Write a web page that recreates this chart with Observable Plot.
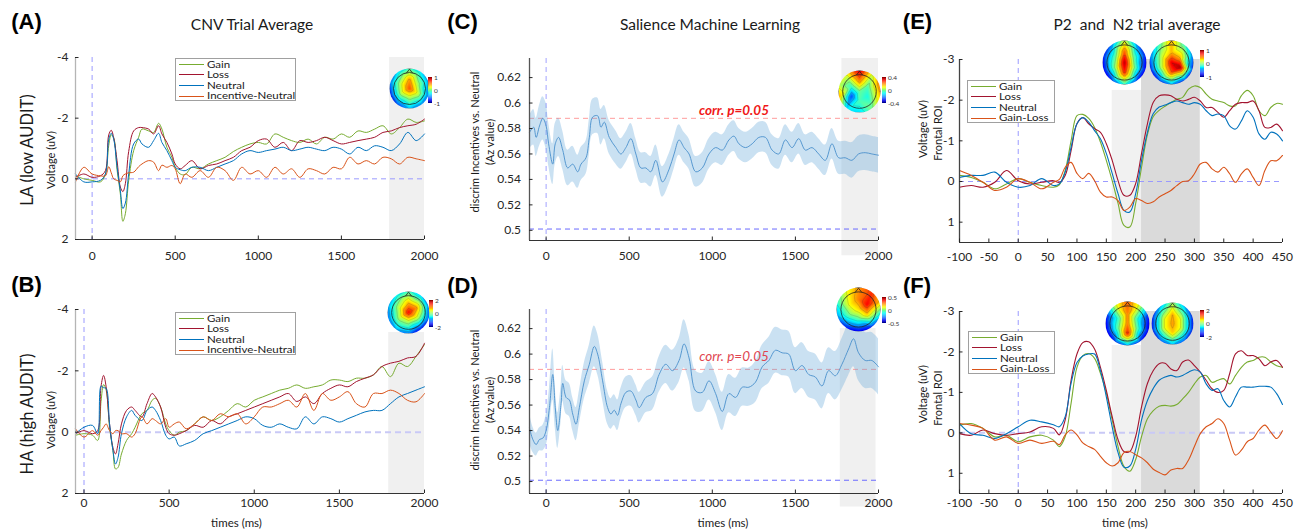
<!DOCTYPE html>
<html><head><meta charset="utf-8">
<script src="https://cdn.jsdelivr.net/npm/d3@7"></script>
<script src="https://cdn.jsdelivr.net/npm/@observablehq/plot@0.6"></script>
<style>
body{margin:0;background:#fff;font-family:Lato,sans-serif;}
#wrap{position:relative;width:1298px;height:530px;overflow:hidden;background:#fff;}
#wrap svg{position:absolute;}
</style></head><body><div id="wrap"></div>
<script>
// ---------------- DATA ----------------
const seriesAB = ["Gain","Loss","Neutral","Incentive-Neutral"];
const seriesEF = ["Gain","Loss","Neutral","Gain-Loss"];

// Panel A (LA, CNV)
const tA = [-100,-50,0,50,80,100,115,130,150,170,185,200,220,250,280,300,340,370,400,420,450,480,500,530,560,600,650,700,750,800,850,900,950,1000,1050,1100,1150,1200,1250,1300,1350,1400,1450,1500,1550,1600,1650,1700,1750,1800,1850,1900,1950,2000];
const gainA = [-0.1,0,0.05,0.1,-0.15,-1.1,-1.45,-1.35,-0.3,0.5,1.4,1.15,0.05,-0.93,-1.37,-1.64,-1.58,-1.53,-1.83,-1.64,-1.04,-0.71,-0.38,-0.16,-0.14,-0.38,-0.33,-0.49,-0.6,-0.71,-0.9,-1.04,-1.15,-1.2,-1.15,-1.48,-1.37,-1.26,-1.2,-1.31,-1.15,-1.37,-1.31,-1.48,-1.37,-1.58,-1.53,-1.64,-1.75,-1.48,-1.69,-1.97,-1.86,-1.91];
const lossA = [-0.05,-0.16,-0.05,-0.1,-0.27,-1.45,-1.6,-1.35,-0.6,0.27,0.42,0.16,-0.9,-1.58,-1.69,-1.69,-1.64,-1.48,-1.75,-1.48,-1.2,-0.82,-0.49,-0.33,-0.44,-0.6,-0.33,-0.44,-0.49,-0.6,-0.71,-0.93,-1.04,-1.26,-1.31,-1.04,-1.2,-0.93,-1.26,-1.2,-1.26,-1.37,-1.26,-1.15,-1.2,-1.26,-1.31,-1.37,-1.53,-1.58,-1.69,-1.75,-1.8,-1.97];
const neutralA = [-0.16,0.1,0.1,0.05,-0.16,-1.3,-1.5,-1.3,-0.4,0.4,0.98,0.8,-0.16,-1.15,-1.31,-1.15,-1.04,-1.26,-1.5,-1.2,-0.93,-0.6,-0.38,-0.3,-0.27,-0.38,-0.38,-0.27,-0.38,-0.49,-0.6,-0.82,-0.93,-0.87,-0.93,-0.98,-1.04,-0.93,-0.98,-1.04,-0.98,-0.93,-1.04,-0.98,-0.82,-1.04,-0.93,-1.09,-1.04,-0.93,-1.15,-1.53,-1.26,-1.48];
const diffA = [0.1,-0.38,-0.16,-0.1,-0.1,-0.4,-0.2,0.0,0.05,0.1,-0.1,-0.16,-0.2,-0.22,-0.4,-0.49,-0.6,-0.55,-0.27,-0.45,-0.38,-0.44,-0.33,0.16,-0.16,-0.05,-0.27,-0.05,-0.38,-0.27,0.05,-0.38,-0.16,-0.27,-0.05,-0.38,-0.16,-0.33,-0.05,-0.33,-0.27,-0.16,-0.38,-0.33,-0.71,-0.49,-0.6,-0.49,-0.71,-0.66,-0.49,-0.71,-0.66,-0.6];

// Panel B (HA, CNV)
const tB = [-50,0,50,80,100,115,130,150,170,185,200,220,250,280,300,340,370,400,420,450,480,500,530,560,600,650,700,750,800,850,900,950,1000,1050,1100,1150,1200,1250,1300,1350,1400,1450,1500,1550,1600,1650,1700,1750,1800,1850,1900,1950,2000];
const gainB = [0.1,0.05,0.1,0.27,-1.0,-1.55,-1.37,-0.16,0.6,1.2,1.15,0.71,0.27,0.05,-0.16,-0.6,-0.71,-1.04,-1.1,-0.82,-0.27,-0.05,0.1,0,-0.05,-0.27,-0.5,-0.38,-0.5,-0.71,-0.93,-0.82,-1.04,-1.15,-1.26,-1.37,-1.43,-1.54,-1.43,-1.48,-1.54,-1.7,-1.7,-1.65,-1.76,-1.76,-1.87,-2.14,-1.81,-2.25,-2.14,-2.47,-2.86];
const lossB = [0.05,-0.05,0.05,-0.05,-1.5,-1.85,-1.48,-0.27,0.5,0.71,0.38,-0.27,-0.71,-0.82,-0.71,-0.5,-0.93,-1.26,-1.15,-0.82,-0.16,0.05,0.1,0.05,-0.05,-0.22,-0.16,-0.38,-0.27,-0.5,-0.6,-0.71,-0.82,-0.93,-1.04,-1.15,-1.26,-1.0,-1.15,-0.93,-1.26,-1.43,-1.54,-1.48,-1.65,-1.76,-1.87,-2.14,-2.25,-2.31,-2.42,-2.47,-2.9];
const neutralB = [0.05,-0.16,-0.22,0.05,-1.5,-1.45,-1.43,-0.27,0.6,1.04,0.82,0.05,-0.5,-0.71,-0.55,-0.38,-0.71,-0.82,-0.71,-0.38,0.1,0.22,0.16,0.45,0.38,0.27,0.05,-0.05,-0.16,-0.27,-0.38,-0.5,-0.44,-0.22,-0.16,-0.27,-0.16,-0.11,-0.5,-0.27,-0.5,-0.44,-0.33,-0.44,-0.55,-0.66,-0.71,-0.71,-0.93,-1.15,-1.26,-1.37,-1.48];
const diffB = [-0.11,0.16,-0.05,0.1,-0.05,-0.16,-0.27,-0.05,0.05,-0.05,-0.05,0.05,0.05,0.16,0.05,-0.5,-0.27,-0.44,-0.38,-0.27,-0.44,-0.16,-0.27,-0.33,-0.11,-0.27,-0.5,-0.38,-0.6,-0.5,-0.6,-0.27,-0.5,-0.82,-0.82,-0.93,-1.04,-0.82,-1.26,-0.71,-1.26,-1.04,-1.15,-1.32,-0.93,-0.82,-1.26,-1.26,-1.37,-1.26,-1.04,-0.99,-1.26];

// Panel C (LA, classifier Az) mean and half-width of band
const tC = [-100,-75,-60,-40,-20,0,15,40,55,75,100,130,160,190,210,240,260,280,310,330,350,380,420,450,480,510,540,570,600,630,660,700,740,770,800,830,860,900,940,980,1020,1060,1100,1130,1160,1200,1240,1280,1320,1360,1400,1440,1480,1520,1560,1600,1640,1680,1720,1760,1800,1840,1880,1920,1960,2000];
const azC = [0.577,0.581,0.573,0.582,0.588,0.582,0.568,0.552,0.568,0.573,0.563,0.549,0.552,0.546,0.552,0.557,0.573,0.589,0.590,0.581,0.585,0.573,0.565,0.560,0.565,0.572,0.560,0.549,0.549,0.546,0.555,0.538,0.548,0.560,0.571,0.565,0.560,0.546,0.549,0.560,0.565,0.563,0.571,0.574,0.568,0.565,0.568,0.573,0.573,0.563,0.560,0.571,0.565,0.572,0.563,0.565,0.560,0.555,0.568,0.557,0.557,0.555,0.560,0.561,0.560,0.559];
const ciC = [0.013,0.014,0.015,0.016,0.017,0.018,0.017,0.016,0.016,0.015,0.015,0.014,0.014,0.013,0.013,0.013,0.014,0.014,0.014,0.014,0.013,0.013,0.013,0.012,0.012,0.012,0.012,0.012,0.012,0.012,0.012,0.012,0.012,0.012,0.012,0.012,0.012,0.012,0.012,0.012,0.012,0.012,0.012,0.012,0.012,0.012,0.012,0.012,0.012,0.012,0.012,0.012,0.012,0.012,0.012,0.012,0.012,0.012,0.012,0.013,0.013,0.014,0.014,0.014,0.014,0.014];

// Panel D (HA, classifier Az)
const tD = [-100,-80,-60,-40,-20,0,20,40,55,70,90,100,120,140,160,180,200,230,260,290,310,340,370,390,410,430,450,480,510,540,560,600,640,680,720,760,800,830,860,900,940,980,1020,1060,1100,1140,1180,1220,1260,1300,1340,1380,1420,1460,1500,1540,1580,1620,1660,1700,1740,1780,1820,1850,1880,1920,1960,2000];
const azD = [0.542,0.533,0.529,0.533,0.534,0.540,0.558,0.584,0.558,0.540,0.561,0.577,0.566,0.564,0.553,0.545,0.558,0.579,0.592,0.606,0.600,0.579,0.558,0.553,0.556,0.552,0.561,0.570,0.571,0.564,0.558,0.566,0.569,0.584,0.592,0.587,0.595,0.608,0.597,0.571,0.570,0.579,0.569,0.555,0.569,0.566,0.574,0.574,0.578,0.590,0.595,0.603,0.601,0.600,0.587,0.591,0.584,0.582,0.575,0.587,0.583,0.592,0.604,0.612,0.601,0.595,0.595,0.590];
const ciD = [0.012,0.010,0.009,0.009,0.010,0.012,0.015,0.020,0.016,0.014,0.014,0.014,0.013,0.013,0.013,0.013,0.013,0.014,0.015,0.016,0.016,0.015,0.013,0.012,0.012,0.012,0.012,0.012,0.012,0.012,0.012,0.012,0.013,0.014,0.015,0.016,0.017,0.019,0.018,0.016,0.015,0.015,0.015,0.015,0.015,0.015,0.015,0.015,0.016,0.017,0.018,0.018,0.018,0.018,0.018,0.018,0.018,0.018,0.018,0.018,0.019,0.020,0.021,0.022,0.022,0.022,0.022,0.022];

// Panels E and F (P2/N2 frontal ROI)
const tEF = [-100,-80,-60,-40,-20,0,20,40,60,70,80,90,100,110,120,130,140,150,160,170,180,190,200,210,220,230,240,250,260,270,280,290,300,310,320,330,340,350,360,370,380,390,400,410,420,430,440,450];
const gainE = [-0.15,-0.1,0.02,0.18,0.06,-0.07,0.02,0.1,0.14,0.08,-0.27,-1.0,-1.62,-1.65,-1.55,-1.33,-0.97,-0.52,-0.02,0.54,1.08,1.12,0.54,-0.35,-1.15,-1.6,-1.75,-1.85,-1.94,-2.02,-2.07,-2.27,-2.35,-2.31,-2.15,-2.02,-1.98,-1.94,-1.86,-1.86,-2.11,-2.24,-2.11,-1.74,-1.62,-1.82,-1.92,-1.9];
const lossE = [0.14,0.1,0.14,0.02,-0.27,-0.02,0.06,0.02,-0.02,0.02,-0.15,-0.76,-1.42,-1.57,-1.42,-1.3,-1.21,-0.93,-0.52,-0.02,0.34,0.34,0.05,-0.69,-1.42,-1.95,-2.11,-2.13,-2.11,-2.02,-1.98,-2.02,-2.07,-1.98,-1.82,-1.82,-1.7,-1.58,-1.74,-1.9,-1.94,-1.94,-1.98,-1.74,-1.33,-1.33,-1.41,-1.25];
const neutralE = [-0.1,-0.15,-0.15,-0.23,0.02,0.14,0.1,-0.07,0.1,0.06,-0.23,-0.84,-1.42,-1.57,-1.46,-1.25,-1.05,-0.69,-0.2,0.3,0.71,0.75,0.3,-0.52,-1.21,-1.67,-1.83,-1.88,-1.94,-1.98,-1.94,-1.9,-1.94,-1.9,-1.74,-1.62,-1.66,-1.62,-1.37,-1.29,-1.49,-1.74,-1.58,-1.17,-1.04,-1.21,-1.17,-1.0];
const diffE = [-0.27,-0.15,0.02,0.22,0.14,-0.07,0.02,0.18,0.02,-0.05,-0.35,-0.47,-0.2,-0.07,-0.2,-0.02,0.26,0.38,0.38,0.47,0.71,0.63,0.42,0.47,0.54,0.5,0.38,0.3,0.22,0.1,0,-0.02,-0.19,-0.43,-0.47,-0.31,-0.23,-0.35,-0.19,0.02,-0.19,-0.31,-0.1,0.1,-0.27,-0.51,-0.51,-0.64];
const gainF = [-0.19,-0.23,-0.11,0.1,0.06,0.22,0.1,0.06,0.18,0.34,0.09,-0.73,-1.62,-1.91,-1.96,-1.84,-1.47,-0.98,-0.32,0.34,0.83,0.95,0.66,0.09,-0.35,-0.55,-0.66,-0.68,-0.66,-0.7,-0.84,-1.0,-1.21,-1.38,-1.42,-1.25,-1.3,-1.34,-1.21,-1.42,-1.62,-1.75,-1.79,-1.87,-1.87,-1.75,-1.66,-1.62];
const lossF = [0.02,0.06,-0.07,0.02,0.06,0.02,-0.02,-0.15,-0.11,0.05,-0.32,-1.3,-1.95,-2.23,-2.25,-2.07,-1.62,-1.05,-0.4,0.17,0.46,0.46,0.09,-0.64,-1.22,-1.54,-1.71,-1.72,-1.58,-1.54,-1.75,-1.8,-1.66,-1.5,-1.3,-1.09,-1.0,-1.05,-1.46,-1.95,-2.03,-1.91,-1.91,-1.83,-1.66,-1.75,-1.79,-1.62];
const neutralF = [-0.23,0.02,0.06,0.14,0.02,-0.15,-0.31,-0.27,-0.2,-0.15,-0.4,-1.22,-1.74,-1.9,-1.95,-1.95,-1.54,-0.89,-0.15,0.49,0.85,0.82,0.41,-0.32,-0.8,-1.1,-1.3,-1.38,-1.42,-1.38,-1.42,-1.5,-1.56,-1.5,-1.21,-1.05,-1.09,-0.8,-0.64,-0.89,-1.13,-1.13,-1.13,-1.15,-1.15,-1.13,-0.97,-0.7];
const diffF = [-0.23,-0.19,-0.11,0.18,0.1,0.26,0.18,0.26,0.21,0.29,0.05,-0.07,0.05,0.25,0.34,0.41,0.58,0.74,0.82,0.74,0.49,0.46,0.54,0.62,0.74,0.9,0.98,1.04,0.92,0.88,0.88,0.67,0.34,0.02,-0.15,-0.23,-0.35,-0.23,0.18,0.55,0.43,0.22,0.14,-0.07,-0.19,-0.02,0.14,-0.05];

// reference levels and analysis windows
const corrP = 0.588, chanceAz = 0.501;
const winCNV = [1790, 2000], winC = [1780, 2000], winD = [1770, 1985];
const winP2 = [160, 210], winN2 = [210, 310];

// tick values
const ticksCNVx = [0,500,1000,1500,2000], ticksCNVy = [-4,-2,0,2];
const ticksAzY = [0.5,0.52,0.54,0.56,0.58,0.6,0.62];
const ticksEFx = [-100,-50,0,50,100,150,200,250,300,350,400,450], ticksEFy = [-3,-2,-1,0,1];

// scalp maps: electrode layout + values (normalised)
const elecX = [0,0,0.39,0.39,0,-0.39,-0.39,0,0.647,1.046,1.046,0.647,0,-0.647,-1.046,-1.046,-0.647];
const elecY = [0,0.45,0.225,-0.225,-0.45,-0.225,0.225,1.1,0.89,0.34,-0.34,-0.89,-1.1,-0.89,-0.34,0.34,0.89];
const topoA = [0.6,0.45,0.1,0.2,0.1,0.15,0.2,-0.2,-0.4,-0.5,-0.6,-0.55,-0.45,-0.7,-0.8,-0.6,-0.4];
const topoB = [0.75,0.4,0.45,0.2,0.1,0.15,0.2,-0.2,-0.45,-0.6,-0.7,-0.85,-0.6,-0.5,-0.6,-0.5,-0.35];
const topoC = [-0.05,0.45,-0.1,-0.2,-0.1,-0.6,-0.15,0.9,0.2,0.6,0.4,0.0,-0.35,-0.3,0.5,0.15,0.25];
const topoD = [0.3,0.5,0.75,0.35,-0.1,0.0,0.25,0.45,0.65,0.3,-0.4,-0.8,-0.9,-0.8,-0.5,-0.2,0.15];
const topoE1 = [0.9,0.6,0.0,0.1,0.7,0.1,0.0,0.1,-0.6,-0.8,-0.9,-0.8,-0.3,-0.8,-0.9,-0.8,-0.6];
const topoE2 = [0.8,0.4,0.4,0.9,0.6,0.2,0.2,0.4,-0.2,-0.6,-0.8,-0.8,-0.6,-0.8,-0.8,-0.6,-0.2];
const topoF1 = [0.5,0.5,-0.1,0.0,0.7,0.0,-0.1,0.6,0.1,-0.8,-0.9,-0.8,-0.6,-0.8,-0.9,-0.8,0.1];
const topoF2 = [0.45,0.4,0.2,0.2,0.35,0.2,0.2,0.0,-0.5,-0.8,-0.8,-0.7,-0.5,-0.7,-0.8,-0.8,-0.5];
const noseX = [-0.14,0,0.14], noseY = [0.79,0.97,0.79];

// ---------------- DRAWING ----------------
const wrap = document.getElementById("wrap");
const COL = {Gain:"#77ac30", Loss:"#a2142f", Neutral:"#0072bd", diff:"#d95319"};
const jet = {type:"linear", domain:[-1,-0.75,-0.25,0.25,0.75,1], range:["#00007f","#0000ff","#00ffff","#ffff00","#ff0000","#7f0000"]};
const fmt = d => String(+(+d).toFixed(2));
const rows = (t, v) => t.map((x, i) => ({t: x, v: v[i]}));
const line = (t, v, c, w = 1) => Plot.line(rows(t, v), {x: "t", y: "v", stroke: c, strokeWidth: w, curve: "catmull-rom"});

function panel({box:[L,T,W,H], frame:[fl,ft,fr,fb], x, y, xticks, yticks, xpad, ypad, leftColor, marks}) {
  const p = Plot.plot({
    width: W, height: H,
    marginLeft: fl - L, marginRight: L + W - fr, marginTop: ft - T, marginBottom: T + H - fb,
    x: {domain: x}, y: {domain: y},
    style: {fontFamily: "Lato, sans-serif", fontSize: "12px", color: "#262626", background: "transparent", overflow: "visible"},
    marks: [
      ...marks,
      Plot.ruleX([x[0]], {stroke: leftColor, strokeWidth: 1.3}),
      Plot.ruleY([y[0]], {stroke: "#333", strokeWidth: 1}),
      Plot.axisX(xticks, {tickSize: -3.5, tickPadding: xpad, tickFormat: fmt, label: null}),
      Plot.axisY(yticks, {tickSize: -3.5, tickPadding: ypad, tickFormat: fmt, label: null})
    ]
  });
  p.style.left = L + "px"; p.style.top = T + "px";
  wrap.append(p);
}

function txt(s, x, y, css = "", rot = false) {
  const d = document.createElement("div");
  d.textContent = s;
  d.style.cssText = `position:absolute;left:${x}px;top:${y}px;white-space:nowrap;line-height:1;color:#1a1a1a;transform:translate(-50%,-50%)${rot ? " rotate(-90deg)" : ""};` + css;
  wrap.append(d);
}

function legend(left, top, w, h, names, colors, first, step) {
  const d = document.createElement("div");
  d.style.cssText = `position:absolute;left:${left}px;top:${top}px;width:${w}px;height:${h}px;border:1px solid #a0a0a0;background:#fff;box-sizing:border-box;`;
  names.forEach((n, i) => {
    const cy = first + i * step;
    const ln = document.createElement("div");
    ln.style.cssText = `position:absolute;left:3px;top:${cy - 0.7}px;width:25px;height:0;border-top:1.3px solid ${colors[i]};`;
    const tx = document.createElement("div");
    tx.textContent = n;
    tx.style.cssText = `position:absolute;left:31px;top:${cy}px;line-height:1;font-size:11.5px;color:#1a1a1a;white-space:nowrap;transform-origin:0 0;transform:translateY(-50%) scaleY(0.76);transform:scaleY(0.76) translateY(-50%);`;
    d.append(ln, tx);
  });
  wrap.append(d);
}

let clipN = 0;
function topomap(cx, cy, R, vals) {
  const m = 2, size = 2 * R + 2 * m;
  const data = elecX.map((x, i) => ({x, y: elecY[i], v: vals[i]}));
  const p = Plot.plot({
    width: size, height: size, margin: m,
    x: {domain: [-1, 1], axis: null}, y: {domain: [-1, 1], axis: null},
    color: jet,
    style: {background: "transparent", overflow: "visible"},
    marks: [
      Plot.raster(data, {x: "x", y: "y", fill: "v", interpolate: "barycentric"}),
      Plot.contour(data, {x: "x", y: "y", value: "v", interpolate: "barycentric", thresholds: 7, stroke: "#333", strokeOpacity: 0.45, strokeWidth: 0.4, fill: "none"}),
      Plot.dot([0], {x: d => d, y: d => d, r: R * 0.8, stroke: "#222", strokeWidth: 0.8, fill: "none"}),
      Plot.line(noseX.map((x, i) => ({x, y: noseY[i]})), {x: "x", y: "y", stroke: "#222", strokeWidth: 0.8})
    ]
  });
  const ns = "http://www.w3.org/2000/svg", id = "clp" + (clipN++);
  const defs = document.createElementNS(ns, "defs");
  const cp = document.createElementNS(ns, "clipPath"); cp.setAttribute("id", id);
  const c = document.createElementNS(ns, "circle");
  c.setAttribute("cx", size / 2); c.setAttribute("cy", size / 2); c.setAttribute("r", R);
  cp.append(c); defs.append(cp); p.prepend(defs);
  p.querySelectorAll('[aria-label="raster"],[aria-label="contour"]').forEach(g => g.setAttribute("clip-path", `url(#${id})`));
  p.style.left = (cx - size / 2) + "px"; p.style.top = (cy - size / 2) + "px";
  wrap.append(p);
}

function colorbar(left, top, h, labels) {
  const n = 24;
  const p = Plot.plot({
    width: 30, height: h + 8, marginTop: 4, marginBottom: 4, marginLeft: 0, marginRight: 0,
    x: {domain: [0, 7.5], axis: null}, y: {domain: [0, n], axis: null},
    color: jet,
    style: {background: "transparent", overflow: "visible", fontFamily: "Lato, sans-serif"},
    marks: [
      Plot.rect(d3.range(n), {x1: 0, x2: 1, y1: d => d, y2: d => d + 1, fill: d => -1 + 2 * (d + 0.5) / n}),
      Plot.text(labels, {x: 1.35, y: (d, i) => [n, n / 2, 0][i], text: d => d, textAnchor: "start", fontSize: 6.5, fill: "#333"})
    ]
  });
  p.style.left = left + "px"; p.style.top = (top - 4) + "px";
  wrap.append(p);
}

const dashBlue = {stroke: "#9a9aff", strokeDasharray: "5,4", strokeWidth: 1};
const dashBlueThick = {stroke: "#c9c9f6", strokeDasharray: "6,4", strokeWidth: 2};

// Panel A
panel({box: [0, 0, 440, 262], frame: [75, 57, 424, 239], x: [-100, 2000], y: [2, -4],
  xticks: ticksCNVx, yticks: ticksCNVy, xpad: 15, ypad: 10.5, leftColor: "#b5b5b5",
  marks: [
    Plot.rect([winCNV], {x1: d => d[0], x2: d => d[1], y1: 2, y2: -4, fill: "#f0f0f0"}),
    Plot.ruleY([0], dashBlue), Plot.ruleX([0], dashBlue),
    line(tA, gainA, COL.Gain), line(tA, lossA, COL.Loss), line(tA, neutralA, COL.Neutral), line(tA, diffA, COL.diff)
  ]});
// Panel B
panel({box: [0, 262, 440, 250], frame: [75, 309, 424, 493], x: [-50, 2000], y: [2, -4],
  xticks: ticksCNVx, yticks: ticksCNVy, xpad: 8, ypad: 10.5, leftColor: "#b5b5b5",
  marks: [
    Plot.rect([winCNV], {x1: d => d[0], x2: d => d[1], y1: 2, y2: -3.25, fill: "#f0f0f0"}),
    Plot.ruleY([0], dashBlueThick), Plot.ruleX([0], dashBlue),
    line(tB, gainB, COL.Gain), line(tB, lossB, COL.Loss), line(tB, neutralB, COL.Neutral), line(tB, diffB, COL.diff)
  ]});

function azMarks(t, m, ci, win, ytop) {
  const d = t.map((x, i) => ({t: x, lo: m[i] - ci[i], hi: m[i] + ci[i], v: m[i]}));
  return [
    Plot.rect([win], {x1: w => w[0], x2: w => w[1], y1: 0.48, y2: ytop, fill: "#f0f0f0"}),
    Plot.ruleY([corrP], {stroke: "#ff9c9c", strokeDasharray: "5,4"}),
    Plot.ruleY([chanceAz], {stroke: "#6a6aff", strokeDasharray: "5,4"}),
    Plot.ruleX([0], {stroke: "#a3a3ff", strokeDasharray: "5,4"}),
    Plot.areaY(d, {x: "t", y1: "lo", y2: "hi", fill: "#5ea3d8", fillOpacity: 0.33, curve: "catmull-rom"}),
    Plot.line(d, {x: "t", y: "v", stroke: "#4a90cc", strokeWidth: 0.9, curve: "catmull-rom"})
  ];
}
// Panel C
panel({box: [440, 0, 450, 262], frame: [529, 58, 878, 240], x: [-100, 2000], y: [0.492, 0.635],
  xticks: ticksCNVx, yticks: ticksAzY, xpad: 14, ypad: 12, leftColor: "#555",
  marks: azMarks(tC, azC, ciC, winC, 0.635)});
// Panel D
panel({box: [440, 262, 450, 250], frame: [529, 309, 878, 493], x: [-100, 2000], y: [0.4906, 0.635],
  xticks: ticksCNVx, yticks: ticksAzY, xpad: 8, ypad: 12, leftColor: "#555",
  marks: azMarks(tD, azD, ciD, winD, 0.62)});

// Panel E
panel({box: [890, 0, 408, 262], frame: [959, 59, 1282, 242], x: [-100, 450], y: [1.5, -3],
  xticks: ticksEFx, yticks: ticksEFy, xpad: 13, ypad: 8.5, leftColor: "#444",
  marks: [
    Plot.rect([winP2], {x1: d => d[0], x2: d => d[1], y1: 1.5, y2: -2.24, fill: "#f1f1f1"}),
    Plot.rect([winN2], {x1: d => d[0], x2: d => d[1], y1: 1.5, y2: -3, fill: "#dadada"}),
    Plot.ruleY([0], dashBlue), Plot.ruleX([0], dashBlue),
    line(tEF, gainE, COL.Gain, 1.1), line(tEF, lossE, COL.Loss, 1.1), line(tEF, neutralE, COL.Neutral, 1.1), line(tEF, diffE, COL.diff, 1.1)
  ]});
// Panel F
panel({box: [890, 262, 408, 250], frame: [959, 311, 1282, 493], x: [-100, 450], y: [1.5, -3],
  xticks: ticksEFx, yticks: ticksEFy, xpad: 8, ypad: 8.5, leftColor: "#444",
  marks: [
    Plot.rect([winP2], {x1: d => d[0], x2: d => d[1], y1: 1.5, y2: -2.16, fill: "#f1f1f1"}),
    Plot.rect([winN2], {x1: d => d[0], x2: d => d[1], y1: 1.5, y2: -3, fill: "#dadada"}),
    Plot.ruleY([0], dashBlueThick), Plot.ruleX([0], dashBlue),
    line(tEF, gainF, COL.Gain, 1.1), line(tEF, lossF, COL.Loss, 1.1), line(tEF, neutralF, COL.Neutral, 1.1), line(tEF, diffF, COL.diff, 1.1)
  ]});

// scalp maps + colour bars
topomap(409, 88, 20, topoA); colorbar(428, 77, 26, ["1", "0", "-1"]);
topomap(408, 312, 21, topoB); colorbar(429, 300, 27, ["2", "0", "-2"]);
topomap(859, 91, 21, topoC); colorbar(882, 77, 26, ["0.4", "0", "-0.4"]);
topomap(858, 309, 22, topoD); colorbar(882, 297, 26, ["0.5", "0", "-0.5"]);
topomap(1124, 62, 22, topoE1); topomap(1171, 62, 22, topoE2); colorbar(1200, 50, 27, ["1", "0", "-1"]);
topomap(1127, 323, 22, topoF1); topomap(1172, 323, 21, topoF2); colorbar(1200, 310, 27, ["2", "0", "-2"]);

// legends
legend(175, 58, 121, 43, seriesAB, [COL.Gain, COL.Loss, COL.Neutral, COL.diff], 5.5, 10.6);
legend(175, 312, 121, 43, seriesAB, [COL.Gain, COL.Loss, COL.Neutral, COL.diff], 5.5, 10.6);
legend(967, 80, 88, 43, seriesEF, [COL.Gain, COL.Loss, COL.Neutral, COL.diff], 5.5, 10.6);
legend(968, 331, 87, 43, seriesEF, [COL.Gain, COL.Loss, COL.Neutral, COL.diff], 5.5, 10.6);

// texts
const bold = "font-family:'Liberation Sans',Arial,sans-serif;font-weight:bold;font-size:22px;color:#000;";
txt("(A)", 26.5, 21.5, bold); txt("(B)", 26.5, 285, bold);
txt("(C)", 462.5, 21.5, bold); txt("(D)", 462.5, 286, bold);
txt("(E)", 917.5, 21.5, bold); txt("(F)", 917, 286, bold);
const ttl = "font-size:15.5px;";
txt("CNV Trial Average", 252, 25, ttl);
txt("Salience Machine Learning", 710, 25, ttl);
txt("P2  and  N2 trial average", 1137, 25, ttl + "white-space:pre;");
txt("LA (low AUDIT)", 27, 150, "font-size:16.5px;", true);
txt("HA (high AUDIT)", 27, 414, "font-size:16.5px;", true);
const yl = "font-size:11px;";
txt("Voltage (uV)", 49.5, 160, yl, true); txt("Voltage (uV)", 49.5, 420, yl, true);
txt("discrim Incentives vs. Neutral", 474, 142, yl, true); txt("(Az value)", 489, 142, yl, true);
txt("discrim Incentives vs. Neutral", 474, 400, yl, true); txt("(Az value)", 489, 400, yl, true);
txt("Voltage (uV)", 922, 129, yl, true); txt("Frontal ROI", 937, 133, yl, true);
txt("Voltage (uV)", 922, 394, yl, true); txt("Frontal ROI", 937, 398, yl, true);
txt("times (ms)", 236.5, 523, "font-size:11.5px;");
txt("times (ms)", 723, 523, "font-size:11.5px;");
txt("time (ms)", 1125, 523, "font-size:11.5px;");
txt("corr. p=0.05", 734, 111, "font-size:13.5px;font-style:italic;font-weight:bold;color:#f01818;");
txt("corr. p=0.05", 734, 357, "font-size:13.5px;font-style:italic;color:#e0454f;");
</script></body></html>
